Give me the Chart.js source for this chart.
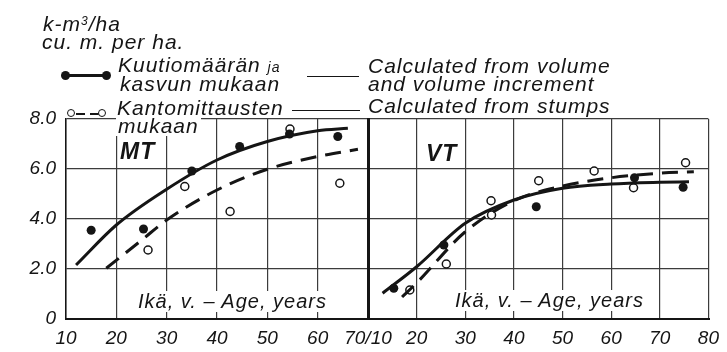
<!DOCTYPE html>
<html>
<head>
<meta charset="utf-8">
<script src="https://cdn.jsdelivr.net/npm/chart.js@4.4.1/dist/chart.umd.min.js"></script>
<style>
  body { margin: 0; background: #fff; }
  #wrap { position: relative; width: 727px; height: 352px; overflow: hidden;
          font-family: "Liberation Sans", Arial, sans-serif; font-style: italic; color: #151515; }
  #wrap canvas { position: absolute; left: 0; top: 0; }
  .t { position: absolute; white-space: nowrap; font-size: 21px; line-height: 21px; letter-spacing: 1px; }
  .bg { background: #fff; padding: 0 2px; }
  .ln { position: absolute; height: 0; border-top: 2px solid #151515; }
  .dot { position: absolute; width: 9px; height: 9px; border-radius: 50%; background: #151515; }
  .ring { position: absolute; width: 6px; height: 6px; border-radius: 50%; border: 1.5px solid #151515; background: #fff; }
</style>
</head>
<body>
<div id="wrap">
  <canvas id="mt" width="727" height="352"></canvas>
  <canvas id="vt" width="727" height="352"></canvas>

  <div class="t" style="left:43px;top:11px">k-m<sup style="font-size:12px;vertical-align:6px">3</sup>/ha</div>
  <div class="t" style="left:42px;top:31px">cu. m. per ha.</div>

  <div class="ln" style="left:65px;top:74px;width:42px;border-top-width:3px"></div>
  <div class="dot" style="left:61px;top:71px"></div>
  <div class="dot" style="left:102px;top:71px"></div>
  <div class="t" style="left:118px;top:54px">Kuutiomäärän <span style="font-size:14px">ja</span></div>
  <div class="t" style="left:120px;top:73px">kasvun mukaan</div>
  <div class="ln" style="left:307px;top:76px;width:52px;border-top-width:1.5px"></div>
  <div class="t" style="left:368px;top:55px">Calculated from volume</div>
  <div class="t" style="left:368px;top:73px">and volume increment</div>

  <div class="ln" style="left:76px;top:113px;width:9px"></div>
  <div class="ln" style="left:90px;top:113px;width:9px"></div>
  <div class="ring" style="left:67px;top:109px"></div>
  <div class="ring" style="left:98px;top:109px"></div>
  <div class="t" style="left:117px;top:97px">Kantomittausten</div>
  <div class="ln" style="left:292px;top:110px;width:68px;border-top-width:1.5px"></div>
  <div class="t" style="left:368px;top:95px">Calculated from stumps</div>
  <div class="t bg" style="left:116px;top:115px">mukaan</div>

  <div class="t" style="left:120px;top:141px;font-weight:bold;font-size:23px">MT</div>
  <div class="t" style="left:426px;top:143px;font-weight:bold;font-size:23px">VT</div>

  <div class="t bg" style="left:136px;top:291px;font-size:20px">Ikä, v. – Age, years</div>
  <div class="t bg" style="left:453px;top:290px;font-size:20px">Ikä, v. – Age, years</div>
</div>

<script>
// Volume (cu. m. per ha) against stand age, MT and VT site types
const volTicks = [0, 2, 4, 6, 8];
const volLabels = ['0', '2.0', '4.0', '6.0', '8.0'];
const mtAgeTicks = [10, 20, 30, 40, 50, 60, 70];
const mtAgeLabels = ['10', '20', '30', '40', '50', '60', ''];
const vtAgeTicks = [10, 20, 30, 40, 50, 60, 70, 80];
const vtAgeLabels = ['70/10', '20', '30', '40', '50', '60', '70', '80'];

// MT
const mtFilledAge = [15, 25.4, 35, 44.5, 54.4, 64];
const mtFilledVol = [3.55, 3.6, 5.92, 6.9, 7.4, 7.3];
const mtOpenAge = [26.3, 33.6, 42.6, 54.5, 64.4];
const mtOpenVol = [2.76, 5.3, 4.3, 7.6, 5.43];
const mtSolidAge = [12, 20, 30, 40, 50, 60, 66];
const mtSolidVol = [2.16, 3.76, 5.19, 6.36, 7.1, 7.53, 7.63];
const mtDashAge = [18, 25, 30, 40, 50, 60, 68];
const mtDashVol = [2.03, 3.15, 3.96, 5.16, 5.99, 6.5, 6.79];

// VT
const vtFilledAge = [15.3, 25.6, 44.6, 64.8, 74.8];
const vtFilledVol = [1.23, 2.96, 4.49, 5.65, 5.27];
const vtOpenAge = [18.6, 26.1, 35.3, 35.4, 45.1, 56.5, 64.6, 75.3];
const vtOpenVol = [1.16, 2.2, 4.73, 4.16, 5.53, 5.92, 5.25, 6.25];
const vtSolidAge = [13, 20, 30, 40, 50, 60, 70, 76];
const vtSolidVol = [1.03, 2.09, 3.83, 4.76, 5.23, 5.4, 5.47, 5.49];
const vtDashAge = [17, 20, 30, 40, 50, 60, 70, 77];
const vtDashVol = [0.88, 1.44, 3.49, 4.73, 5.32, 5.65, 5.83, 5.89];

const ink = '#151515';
const gridInk = '#3c3c3c';
const tickFont = { family: '"Liberation Sans", Arial, sans-serif', size: 19, style: 'italic' };

function pts(xs, ys) {
  return xs.map((x, i) => ({ x: x, y: ys[i] }));
}

function datasets(fa, fv, oa, ov, sa, sv, da, dv) {
  return [
    { data: pts(sa, sv), showLine: true, borderColor: ink, borderWidth: 3,
      pointRadius: 0, cubicInterpolationMode: 'monotone' },
    { data: pts(da, dv), showLine: true, borderColor: ink, borderWidth: 3,
      borderDash: [16, 9], pointRadius: 0, cubicInterpolationMode: 'monotone' },
    { data: pts(fa, fv), pointRadius: 4.5, backgroundColor: ink, borderColor: ink, borderWidth: 0 },
    { data: pts(oa, ov), pointRadius: 4, backgroundColor: '#fff', borderColor: ink, borderWidth: 1.5 }
  ];
}

function panel(id, ageTicks, ageLabels, padding, isLeft, sets) {
  return new Chart(document.getElementById(id), {
    type: 'scatter',
    data: { datasets: sets },
    options: {
      responsive: false,
      animation: false,
      layout: { padding: padding },
      plugins: { legend: { display: false }, tooltip: { enabled: false } },
      scales: {
        x: {
          type: 'linear',
          min: ageTicks[0],
          max: ageTicks[ageTicks.length - 1],
          afterBuildTicks: s => { s.ticks = ageTicks.map(v => ({ value: v })); },
          afterFit: s => { s.height = 33; },
          grid: {
            color: gridInk,
            drawTicks: false,
            lineWidth: c => {
              if (isLeft && c.tick && c.tick.value === 70) return 3;
              if (!isLeft && c.tick && c.tick.value === 10) return 3;
              return 1.2;
            }
          },
          border: { color: ink, width: 2 },
          ticks: {
            color: ink, font: tickFont, padding: 8, maxRotation: 0, autoSkip: false,
            callback: (v, i) => ageLabels[i]
          }
        },
        y: {
          min: 0,
          max: 8,
          afterBuildTicks: s => { s.ticks = volTicks.map(v => ({ value: v })); },
          afterFit: s => { s.width = isLeft ? 66 : 0; },
          grid: { color: gridInk, drawTicks: false, lineWidth: 1.2 },
          border: { color: ink, width: isLeft ? 1.5 : 3 },
          ticks: {
            display: isLeft, color: ink, font: tickFont, padding: 10,
            callback: (v, i) => volLabels[i]
          }
        }
      }
    }
  });
}

panel('mt', mtAgeTicks, mtAgeLabels, { left: 0, right: 359, top: 119, bottom: 0 }, true,
  datasets(mtFilledAge, mtFilledVol, mtOpenAge, mtOpenVol, mtSolidAge, mtSolidVol, mtDashAge, mtDashVol));

panel('vt', vtAgeTicks, vtAgeLabels, { left: 368, right: 9, top: 119, bottom: 0 }, false,
  datasets(vtFilledAge, vtFilledVol, vtOpenAge, vtOpenVol, vtSolidAge, vtSolidVol, vtDashAge, vtDashVol));
</script>
</body>
</html>
